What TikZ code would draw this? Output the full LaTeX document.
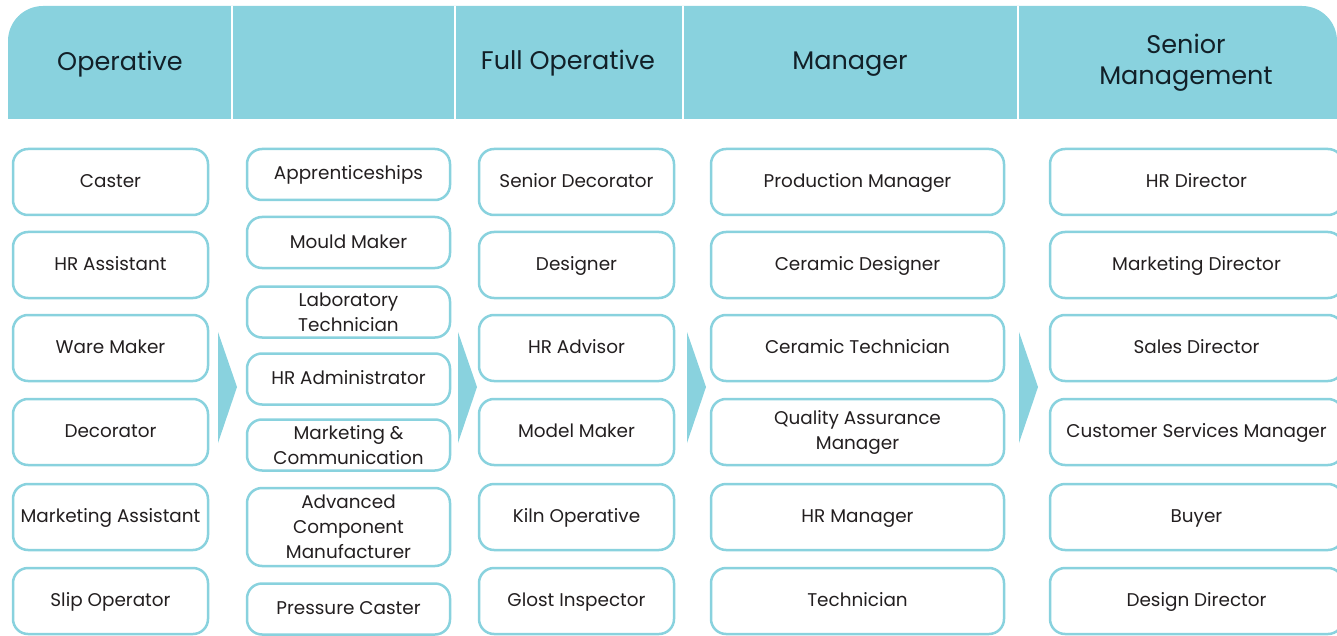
\documentclass[tikz,border=0pt]{standalone}
\usepackage{fontspec}
\setmainfont{Poppins}
\usepackage{xcolor}
\usepackage{tikz}
\usetikzlibrary{positioning}

\definecolor{tealband}{RGB}{137,210,222}
\definecolor{inkgray}{RGB}{35,31,32}
\definecolor{inknavy}{RGB}{18,32,40}

\tikzset{
  jobbox/.style={draw=tealband, line width=2.5pt, rounded corners=15pt, fill=white,
    align=center, text=inkgray, inner sep=0pt,
    font=\fontsize{18.4}{25}\selectfont},
  oneline/.style={text height=15pt, text depth=4pt},
  headtxt/.style={align=center, text=inknavy, font=\fontsize{25.5}{31}\selectfont},
  steparrow/.style={fill=tealband}
}

\begin{document}
\begin{tikzpicture}[x=1pt,y=-1pt]
                \useasboundingbox (0,0) rectangle (1337,636);
                % Header band, rounded on top only
                \begin{scope}
                \clip (0,0) rectangle (1337,119);
                \fill[tealband, rounded corners=35pt] (8,6) rectangle (1337,170);
                \end{scope}
                \foreach \dx in {232,455,683,1018}
                  \draw[white, line width=2.5pt] (\dx,6) -- (\dx,119);
                \node[headtxt] (hOperative) at (120,64) {Operative};
                \node[headtxt] (hFull) at (568,63) {Full Operative};
                \node[headtxt] (hManager) at (850,64) {Manager};
                \node[headtxt] (hSenior) at (1186,63) {Senior\\Management};

                % Arrows between the columns
                \foreach \ax in {218,458,687,1019}
                  \fill[steparrow] (\ax,332) -- (\ax+19,387) -- (\ax,443) -- cycle;

                % Operative
                \begin{scope}[every node/.style={jobbox, oneline, minimum width=195pt, minimum height=66pt}]
                \node (caster) at (110.5,182) {Caster};
                \node (hrAssistant) at (110.5,265) {HR Assistant};
                \node (wareMaker) at (110.5,348) {Ware Maker};
                \node (decorator) at (110.5,432) {Decorator};
                \node (mktAssistant) at (110.5,517) {Marketing Assistant};
                \node (slipOperator) at (110.5,601) {Slip Operator};
                \end{scope}

                % Apprenticeships
                \begin{scope}[every node/.style={jobbox, minimum width=203pt, minimum height=51pt}]
                \node[oneline] (apprentice) at (348.5,174.5) {Apprenticeships};
                \node[oneline] (mouldMaker) at (348.5,242.5) {Mould Maker};
                \node (labTech) at (348.5,312) {Laboratory\\Technician};
                \node[oneline] (hrAdmin) at (348.5,379) {HR Administrator};
                \node (mktComm) at (348.5,445) {Marketing \&\\Communication};
                \node[minimum height=78pt] (advComp) at (348.5,527) {Advanced\\Component\\Manufacturer};
                \node[oneline] (pressCaster) at (348.5,609) {Pressure Caster};
                \end{scope}

                % Full Operative
                \begin{scope}[every node/.style={jobbox, oneline, minimum width=195pt, minimum height=66pt}]
                \node (snrDecorator) at (576.5,182) {Senior Decorator};
                \node (designer) at (576.5,265) {Designer};
                \node (hrAdvisor) at (576.5,348) {HR Advisor};
                \node (modelMaker) at (576.5,432) {Model Maker};
                \node (kilnOp) at (576.5,517) {Kiln Operative};
                \node (glostInsp) at (576.5,601) {Glost Inspector};
                \end{scope}

                % Manager
                \begin{scope}[every node/.style={jobbox, minimum width=293pt, minimum height=66pt}]
                \node[oneline] (prodManager) at (857.5,182) {Production Manager};
                \node[oneline] (cerDesigner) at (857.5,265) {Ceramic Designer};
                \node[oneline] (cerTech) at (857.5,348) {Ceramic Technician};
                \node (qaManager) at (857.5,432) {Quality Assurance\\Manager};
                \node[oneline] (hrManager) at (857.5,517) {HR Manager};
                \node[oneline] (technician) at (857.5,601) {Technician};
                \end{scope}

                % Senior Management
                \begin{scope}[every node/.style={jobbox, oneline, minimum width=293pt, minimum height=66pt}]
                \node (hrDirector) at (1196.5,182) {HR Director};
                \node (mktDirector) at (1196.5,265) {Marketing Director};
                \node (salesDirector) at (1196.5,348) {Sales Director};
                \node (custServices) at (1196.5,432) {Customer Services Manager};
                \node (buyer) at (1196.5,517) {Buyer};
                \node (designDirector) at (1196.5,601) {Design Director};
                \end{scope}
            \end{tikzpicture}
\end{document}
